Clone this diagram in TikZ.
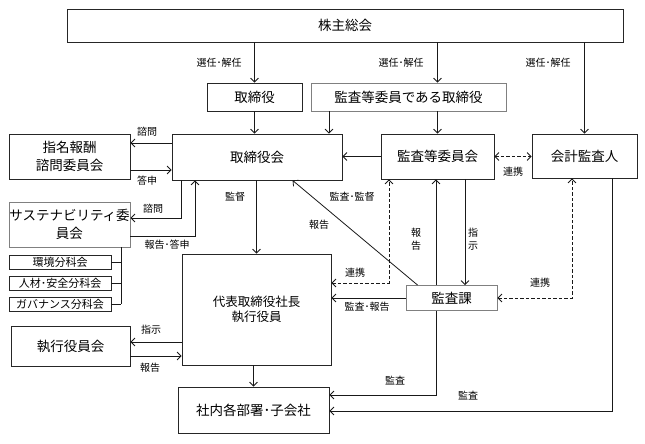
\documentclass[tikz,border=0pt]{standalone}
\usepackage{fontspec}
\setmainfont{Noto Sans CJK JP}
\usetikzlibrary{arrows.meta}
\begin{document}
\begin{tikzpicture}[x=1pt,y=-1pt,
  bx/.style={draw=black!85, line width=0.8pt, inner sep=0pt, align=center, font=\fontsize{13.5}{18}\selectfont},
  gbx/.style={bx, draw=black!50},
  sbx/.style={bx, minimum width=102pt, minimum height=14pt, font=\fontsize{11}{12}\selectfont},
  lbl/.style={font=\fontsize{10}{13}\selectfont, inner sep=0pt, align=center},
  ln/.style={line width=0.8pt, draw=black!90},
  arr/.style={ln, -{Straight Barb[length=4pt,width=8pt]}},
  darr/.style={ln, dash pattern=on 3.5pt off 2pt, {Straight Barb[length=4pt,width=8pt]}-{Straight Barb[length=4pt,width=8pt]}},
]
\useasboundingbox (0,0) rectangle (645,444);

% boxes
\node[bx, minimum width=556pt, minimum height=33pt] (kabu) at (345,25.5) {株主総会};
\node[bx, minimum width=95pt, minimum height=28pt] (tori) at (254.5,97) {取締役};
\node[gbx, minimum width=195pt, minimum height=28pt] (kt) at (408.5,97) {監査等委員である取締役};
\node[bx, minimum width=170pt, minimum height=46pt] (tk) at (257,157) {取締役会};
\node[bx, minimum width=121pt, minimum height=45pt] (shimei) at (69.5,156.5) {指名報酬\\諮問委員会};
\node[bx, minimum width=113pt, minimum height=45pt] (ki) at (437.5,156.5) {監査等委員会};
\node[bx, minimum width=105pt, minimum height=44pt] (kaikei) at (584.5,156) {会計監査人};
\node[gbx, minimum width=121pt, minimum height=45pt] (sus) at (69.5,224.5) {サステナビリティ委\\員会};
\node[sbx] (kan) at (60,262) {環境分科会};
\node[sbx] (jin) at (60,283) {人材･安全分科会};
\node[sbx] (gov) at (60,304) {ガバナンス分科会};
\node[bx, minimum width=149pt, minimum height=111pt, font=\fontsize{12.5}{15}\selectfont] (dai) at (256.5,309.5) {代表取締役社長\\執行役員};
\node[gbx, minimum width=91pt, minimum height=25pt] (kk) at (451.5,298) {監査課};
\node[bx, minimum width=119pt, minimum height=40pt] (shikko) at (70.5,346) {執行役員会};
\node[bx, minimum width=151pt, minimum height=46pt] (shanai) at (253.5,410) {社内各部署･子会社};

% helper coordinates
\coordinate (c1) at (181,218);
\coordinate (c2) at (195,236);
\coordinate (c3) at (389,283);
\coordinate (c4) at (572,298);
\coordinate (c5) at (436,395);
\coordinate (c6) at (612,411);
\coordinate (c7) at (121,304);
\coordinate (c8) at (436,0);
\coordinate (c9) at (465,0);
\coordinate (c10) at (0,342);
\coordinate (c11) at (0,356);

% connectors
\draw[arr] (kabu.south -| tori) -- (tori.north);
\draw[arr] (kabu.south -| ki) -- (kt.north -| ki);
\draw[arr] (kabu.south -| kaikei) -- (kaikei.north);
\draw[arr] (tori.south) -- (tori.south |- tk.north);
\draw[arr] ([xshift=-79.5pt]kt.south) -- ([xshift=-79.5pt]kt.south |- tk.north);
\draw[arr] (kt.south -| ki) -- (ki.north);
\draw[arr] (ki.west) -- (ki.west -| tk.east);
\draw[darr] (ki.east) -- (ki.east -| kaikei.west);
\draw[arr] ([yshift=14pt]tk.west) -- ([yshift=14pt]tk.west -| shimei.east);
\draw[arr] ([yshift=-13pt]tk.west -| shimei.east) -- ([yshift=-13pt]tk.west);
\draw[arr] (tk.south -| c1) |- (sus.east |- c1);
\draw[arr] (sus.east |- c2) -| (tk.south -| c2);
\draw[ln] (sus.south -| c7) -- (c7);
\draw[ln] (kan.east) -- (kan.east -| c7);
\draw[ln] (jin.east) -- (jin.east -| c7);
\draw[ln] (gov.east) -- (gov.east -| c7);
\draw[arr] (tk.south -| dai.north) -- (dai.north);
\draw[arr] ([xshift=12pt]kk.north west) -- ([xshift=121pt]tk.south west);
\draw[darr] (dai.east |- c3) -| (ki.south -| c3);
\draw[arr] (kk.north -| c8) -- (ki.south -| c8);
\draw[arr] (ki.south -| c9) -- (kk.north -| c9);
\draw[darr] (kk.east |- c4) -| (kaikei.south -| c4);
\draw[arr] (kk.west) -- (kk.west -| dai.east);
\draw[arr] (kk.south -| c5) |- (shanai.east |- c5);
\draw[arr] (kaikei.south -| c6) |- (shanai.east |- c6);
\draw[arr] (dai.south -| shanai) -- (shanai.north);
\draw[arr] (dai.west |- c10) -- (shikko.east |- c10);
\draw[arr] (shikko.east |- c11) -- (dai.west |- c11);

% labels
\node[lbl] (l1) at (219,63) {選任･解任};
\node[lbl] (l2) at (401,63) {選任･解任};
\node[lbl] (l3) at (548,63) {選任･解任};
\node[lbl] (l4) at (147,132) {諮問};
\node[lbl] (l5) at (147,181) {答申};
\node[lbl] (l6) at (153,209) {諮問};
\node[lbl] (l7) at (167,245) {報告･答申};
\node[lbl] (l8) at (235,197) {監督};
\node[lbl] (l9) at (319,225) {報告};
\node[lbl] (l10) at (352,197) {監査･監督};
\node[lbl] (l11) at (355,273) {連携};
\node[lbl] (l12) at (416,239.5) {報\\告};
\node[lbl] (l13) at (473,239.5) {指\\示};
\node[lbl] (l14) at (513,172) {連携};
\node[lbl] (l15) at (540,283) {連携};
\node[lbl] (l16) at (367,307) {監査･報告};
\node[lbl] (l17) at (395,381) {監査};
\node[lbl] (l18) at (468,396) {監査};
\node[lbl] (l19) at (151,330) {指示};
\node[lbl] (l20) at (150,368) {報告};
\end{tikzpicture}
\end{document}
